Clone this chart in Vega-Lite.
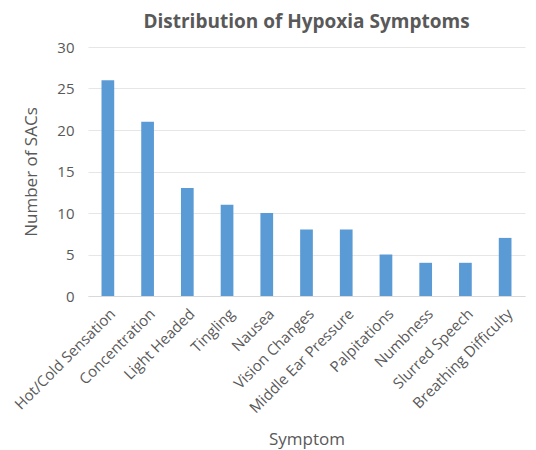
{
  "$schema": "https://vega.github.io/schema/vega-lite/v6.json",
  "width": 437,
  "height": 249,
  "autosize": {"type": "none"},
  "padding": {"left": 88, "top": 47, "right": 11, "bottom": 154},
  "background": "white",
  "title": {
    "text": "Distribution of Hypoxia Symptoms",
    "font": "Open Sans",
    "fontSize": 19,
    "fontWeight": "bold",
    "color": "#595959",
    "anchor": "middle",
    "offset": 8
  },
  "data": {
    "values": [
      {"symptom": "Hot/Cold Sensation", "count": 26},
      {"symptom": "Concentration", "count": 21},
      {"symptom": "Light Headed", "count": 13},
      {"symptom": "Tingling", "count": 11},
      {"symptom": "Nausea", "count": 10},
      {"symptom": "Vision Changes", "count": 8},
      {"symptom": "Middle Ear Pressure", "count": 8},
      {"symptom": "Palpitations", "count": 5},
      {"symptom": "Numbness", "count": 4},
      {"symptom": "Slurred Speech", "count": 4},
      {"symptom": "Breathing Difficulty", "count": 7}
    ]
  },
  "mark": {"type": "bar", "color": "#5B9BD5"},
  "encoding": {
    "x": {
      "field": "symptom",
      "type": "nominal",
      "sort": null,
      "scale": {"paddingInner": 0.68, "paddingOuter": 0.34},
      "axis": {
        "title": "Symptom",
        "titleFont": "Open Sans",
        "titleFontSize": 17,
        "titleFontWeight": "normal",
        "titleColor": "#595959",
        "labelFont": "Open Sans",
        "labelFontSize": 15,
        "labelColor": "#595959",
        "labelAngle": -45,
        "labelPadding": 10,
        "ticks": false,
        "domainColor": "#d9d9d9",
        "titlePadding": 16
      }
    },
    "y": {
      "field": "count",
      "type": "quantitative",
      "scale": {"domain": [0, 30]},
      "axis": {
        "title": "Number of SACs",
        "values": [0, 5, 10, 15, 20, 25, 30],
        "titleFont": "Open Sans",
        "titleFontSize": 17,
        "titleFontWeight": "normal",
        "titleColor": "#595959",
        "labelFont": "Open Sans",
        "labelFontSize": 15,
        "labelColor": "#595959",
        "labelPadding": 14,
        "ticks": false,
        "domain": false,
        "gridColor": "#e6e6e6",
        "titlePadding": 16
      }
    }
  },
  "config": {"view": {"stroke": null}}
}
